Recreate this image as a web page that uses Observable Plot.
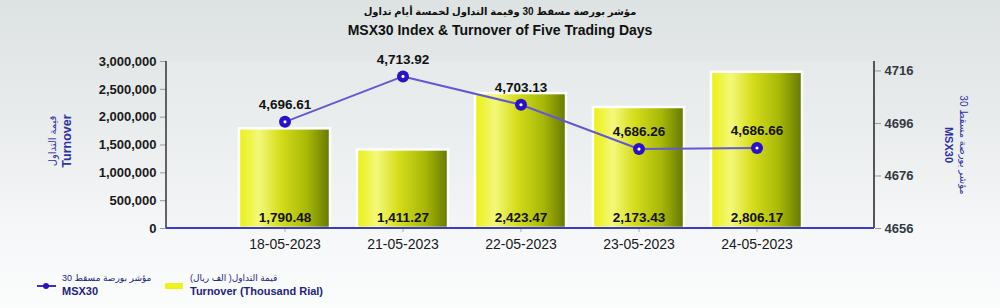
<!DOCTYPE html>
<html>
<head>
<meta charset="utf-8">
<script src="https://cdn.jsdelivr.net/npm/d3@7"></script>
<script src="https://cdn.jsdelivr.net/npm/@observablehq/plot@0.6"></script>
<style>
  html, body { margin: 0; padding: 0; }
  body { width: 1000px; height: 308px; overflow: hidden;
         background: linear-gradient(to bottom, #dde2e2 0%, #e9ecec 40%, #f6f7f8 75%, #fbfcfc 100%);
         font-family: "Liberation Sans", Arial, "DejaVu Sans", sans-serif; }
  #wrap { position: relative; width: 1000px; height: 308px; }
  #chart { position: absolute; left: 0; top: 0; }
  .abs { position: absolute; white-space: nowrap; }
  .t-ar { left: 0; width: 1000px; text-align: center; top: 6px; font-size: 10px; color: #111; font-weight: bold; }
  .t-en { left: 0; width: 1000px; text-align: center; top: 22px; font-size: 14px; color: #111; font-weight: bold; }
  .ytitle { color: #3030a8; text-align: center; line-height: 15px; }
  .ytitle .ar { font-size: 10px; }
  .ytitle .en { font-size: 12.5px; font-weight: bold; }
  .leg { color: #24247f; font-size: 9px; line-height: 13px; }
  .leg .en { font-weight: bold; font-size: 11px; }
</style>
</head>
<body>
<div id="wrap">
  <div id="chart"></div>
  <div class="abs t-ar" dir="rtl">مؤشر بورصة مسقط 30 وقيمة التداول لخمسة أيام تداول</div>
  <div class="abs t-en">MSX30 Index &amp; Turnover of Five Trading Days</div>
  <div class="abs ytitle" style="left:60px; top:141px; transform: translate(-50%,-50%) rotate(-90deg);">
    <div class="ar" dir="rtl">قيمة التداول</div>
    <div class="en">Turnover</div>
  </div>
  <div class="abs ytitle" style="left:956px; top:145px; transform: translate(-50%,-50%) rotate(90deg);">
    <div class="ar" dir="rtl">مؤشر بورصة مسقط 30</div>
    <div class="en" style="font-size:11px">MSX30</div>
  </div>
  <svg class="abs" style="left:35px; top:280px;" width="24" height="12">
    <line x1="2" y1="6" x2="21" y2="6" stroke="#3a2fd0" stroke-width="2"/>
    <circle cx="11" cy="6" r="3" fill="#2a10c8"/>
  </svg>
  <div class="abs leg" style="left:62px; top:272px;">
    <div dir="rtl" style="text-align:left">مؤشر بورصة مسقط 30</div>
    <div class="en">MSX30</div>
  </div>
  <div class="abs" style="left:165px; top:283px; width:18px; height:6px; background:#eef21c;"></div>
  <div class="abs leg" style="left:190px; top:272px;">
    <div dir="rtl" style="text-align:left">قيمة التداول( الف ريال)</div>
    <div class="en">Turnover (Thousand Rial)</div>
  </div>
</div>
<script>
// ---- data ----
const dates = ["18-05-2023", "21-05-2023", "22-05-2023", "23-05-2023", "24-05-2023"];
const turnover = [1790.48, 1411.27, 2423.47, 2173.43, 2806.17];   // thousand rial
const msx30 = [4696.61, 4713.92, 4703.13, 4686.26, 4686.66];
const leftTicks = [0, 500, 1000, 1500, 2000, 2500, 3000];         // shown x1000
const rightTicks = [4656, 4676, 4696, 4716];

// secondary axis mapping (index -> turnover scale units)
const idx2y = d3.scaleLinear().domain([4656, 4719.6]).range([0, 3000]);

const rows = dates.map((d, i) => ({date: d, turnover: turnover[i], msx: msx30[i], msxY: idx2y(msx30[i])}));

const fmt2 = d3.format(",.2f");
const fmtInt = d3.format(",");

const W = 1000, H = 308;
const mL = 166, mR = 126, mT = 61, mB = 80;

const decor = (index, scales, values, dim) => {
  const g = d3.create("svg:g");
  const defs = g.append("defs");
  const grad = defs.append("linearGradient").attr("id", "barGrad").attr("x1", "0").attr("x2", "1").attr("y1", "0").attr("y2", "0");
  [["0%", "#eaf012"], ["22%", "#f4f87a"], ["45%", "#d6de1c"], ["75%", "#a8b808"], ["100%", "#667800"]]
    .forEach(([o, c]) => grad.append("stop").attr("offset", o).attr("stop-color", c));
  const x0 = dim.marginLeft, x1 = dim.width - dim.marginRight;
  const y0 = dim.marginTop, y1 = dim.height - dim.marginBottom;
  g.append("rect").attr("x", x0).attr("y", y0).attr("width", x1 - x0).attr("height", y1 - y0).attr("fill", "#eef1f3").attr("opacity", 0.35);
  return g.node();
};

const axisLines = (index, scales, values, dim) => {
  const g = d3.create("svg:g");
  const x0 = dim.marginLeft, x1 = dim.width - dim.marginRight;
  const y0 = dim.marginTop, y1 = dim.height - dim.marginBottom;
  g.append("line").attr("x1", x0).attr("x2", x0).attr("y1", y0).attr("y2", y1).attr("stroke", "#333").attr("stroke-width", 1.5);
  g.append("line").attr("x1", x1).attr("x2", x1).attr("y1", y0).attr("y2", y1).attr("stroke", "#555").attr("stroke-width", 2);
  g.append("line").attr("x1", x0).attr("x2", x1).attr("y1", y1).attr("y2", y1).attr("stroke", "#3b3bc8").attr("stroke-width", 1.8);
  return g.node();
};

const chart = Plot.plot({
  width: W, height: H,
  marginLeft: mL, marginRight: mR, marginTop: mT, marginBottom: mB,
  style: {background: "transparent", fontFamily: "'Liberation Sans', Arial, sans-serif", overflow: "visible"},
  x: {type: "band", domain: dates, paddingInner: 0.23, paddingOuter: 0.615, axis: null},
  y: {domain: [0, 3000], axis: null},
  marks: [
    decor,
    Plot.barY(rows, {x: "date", y: "turnover", fill: "url(#barGrad)", stroke: "white", strokeWidth: 2.5}),
    Plot.axisY(leftTicks, {anchor: "left", label: null, tickSize: 6, tickPadding: 4, stroke: "#999",
      tickFormat: d => fmtInt(d * 1000), fontSize: 13, fontWeight: "bold", fill: "#1a1a1a"}),
    Plot.axisY(rightTicks.map(v => idx2y(v)), {anchor: "right", label: null, tickSize: 6, tickPadding: 4, stroke: "#999",
      tickFormat: d => String(Math.round(idx2y.invert(d))), fontSize: 13, fontWeight: "bold", fill: "#333a40"}),
    Plot.axisX(dates, {anchor: "bottom", label: null, tickSize: 4, tickPadding: 7, stroke: "#aaa", fontSize: 14, fill: "#1a1a1a"}),
    axisLines,
    Plot.text(rows, {x: "date", y: 0, dy: -7, text: d => fmt2(d.turnover), fontSize: 13.5, fontWeight: "bold", fill: "#111", lineAnchor: "bottom"}),
    Plot.line(rows, {x: "date", y: "msxY", stroke: "#6458d4", strokeWidth: 2}),
    Plot.dot(rows, {x: "date", y: "msxY", r: 6, fill: "#2a10c8"}),
    Plot.dot(rows, {x: "date", y: "msxY", r: 1.6, fill: "white"}),
    Plot.text(rows, {x: "date", y: "msxY", dy: -17, text: d => fmt2(d.msx), fontSize: 13.5, fontWeight: "bold", fill: "#111"})
  ]
});
document.getElementById("chart").appendChild(chart);
</script>
</body>
</html>
